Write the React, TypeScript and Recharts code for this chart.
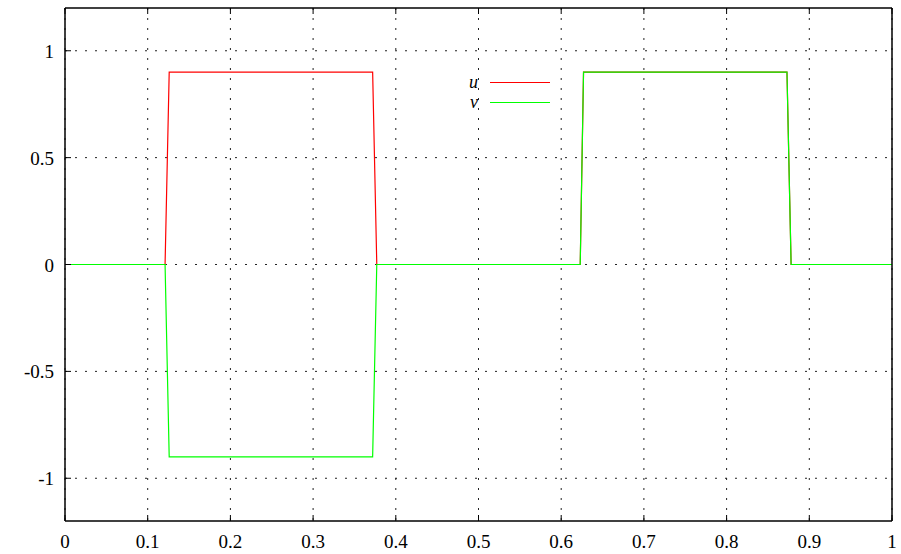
import { LineChart, Line, XAxis, YAxis, CartesianGrid } from 'recharts'

// sample points of the two square pulses
const xs = [0, 0.121, 0.126, 0.372, 0.377, 0.623, 0.627, 0.873, 0.878, 1]
const uValues = [0, 0, 0.9, 0.9, 0, 0, 0.9, 0.9, 0, 0]
const vValues = [0, 0, -0.9, -0.9, 0, 0, 0.9, 0.9, 0, 0]

const xTicks = [0, 0.1, 0.2, 0.3, 0.4, 0.5, 0.6, 0.7, 0.8, 0.9, 1]
const yTicks = [-1, -0.5, 0, 0.5, 1]

const seriesNames = ['u', 'v']
const seriesColors = ['#ff0000', '#00ff00']

const data = xs.map((x, i) => ({ x, u: uValues[i], v: vValues[i] }))

const FONT = 'Liberation Serif, DejaVu Serif, serif'
const TICK_LEN = 6

function LeftTick(props: any) {
  const { x, y, payload } = props
  const axisX = x + 11
  return (
    <g>
      <line x1={axisX} y1={y} x2={axisX + TICK_LEN} y2={y} stroke="#000" />
      <text x={x} y={y} dy={7} textAnchor="end" fontFamily={FONT} fontSize={19} fill="#000">
        {String(payload.value)}
      </text>
    </g>
  )
}

function RightTick(props: any) {
  const { x, y } = props
  return <line x1={x} y1={y} x2={x - TICK_LEN} y2={y} stroke="#000" />
}

function BottomTick(props: any) {
  const { x, y, payload } = props
  return (
    <g>
      <line x1={x} y1={y} x2={x} y2={y - TICK_LEN} stroke="#000" />
      <text x={x} y={y} dy={27} textAnchor="middle" fontFamily={FONT} fontSize={19} fill="#000">
        {String(payload.value)}
      </text>
    </g>
  )
}

function TopTick(props: any) {
  const { x, y } = props
  return <line x1={x} y1={y} x2={x} y2={y + TICK_LEN} stroke="#000" />
}

function KeyBox() {
  return (
    <div style={{ position: 'absolute', left: 440, top: 72, fontFamily: FONT }}>
      {seriesNames.map((name, i) => (
        <div key={name} style={{ display: 'flex', alignItems: 'center', height: 20 }}>
          <span style={{ width: 38, textAlign: 'right', fontStyle: 'italic', fontSize: 18, lineHeight: '18px' }}>
            {name}
          </span>
          <span style={{ width: 60, height: 0, borderTop: `1.5px solid ${seriesColors[i]}`, marginLeft: 12 }} />
        </div>
      ))}
    </div>
  )
}

export default function App() {
  return (
    <div style={{ position: 'absolute', left: 0, top: 0, width: 901, height: 554, background: '#fff' }}>
      <LineChart width={901} height={554} data={data} margin={{ top: 7, right: 8, bottom: 0, left: 0 }}>
        <CartesianGrid
          xAxisId="b"
          yAxisId="l"
          stroke="#222"
          strokeDasharray="2 8"
          verticalValues={xTicks}
          horizontalValues={yTicks}
        />
        <XAxis
          xAxisId="b"
          dataKey="x"
          type="number"
          domain={[0, 1]}
          ticks={xTicks}
          height={33}
          tickSize={0}
          tickMargin={0}
          axisLine={{ stroke: '#000', strokeWidth: 1.5 }}
          tick={<BottomTick />}
          allowDataOverflow
        />
        <XAxis
          xAxisId="t"
          dataKey="x"
          type="number"
          orientation="top"
          domain={[0, 1]}
          ticks={xTicks}
          height={1}
          tickSize={0}
          tickMargin={0}
          axisLine={{ stroke: '#000', strokeWidth: 1.5 }}
          tick={<TopTick />}
        />
        <YAxis
          yAxisId="l"
          type="number"
          domain={[-1.2, 1.2]}
          ticks={yTicks}
          width={65}
          tickSize={0}
          tickMargin={11}
          axisLine={{ stroke: '#000', strokeWidth: 1.5 }}
          tick={<LeftTick />}
          allowDataOverflow
        />
        <YAxis
          yAxisId="r"
          type="number"
          orientation="right"
          domain={[-1.2, 1.2]}
          ticks={yTicks}
          width={1}
          tickSize={0}
          tickMargin={0}
          axisLine={{ stroke: '#000', strokeWidth: 1.5 }}
          tick={<RightTick />}
        />
        <Line
          xAxisId="b"
          yAxisId="l"
          type="linear"
          dataKey="u"
          name="u"
          stroke={seriesColors[0]}
          strokeWidth={1.2}
          dot={false}
          isAnimationActive={false}
        />
        <Line
          xAxisId="b"
          yAxisId="l"
          type="linear"
          dataKey="v"
          name="v"
          stroke={seriesColors[1]}
          strokeWidth={1.2}
          dot={false}
          isAnimationActive={false}
        />
      </LineChart>
      <KeyBox />
    </div>
  )
}
